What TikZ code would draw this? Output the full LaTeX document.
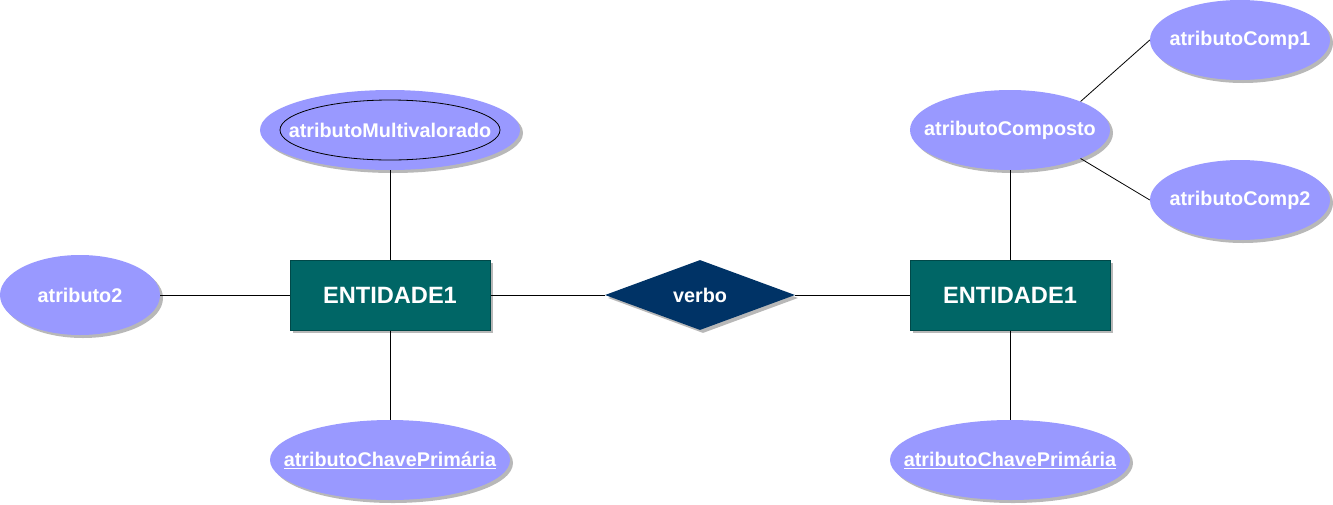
\documentclass[tikz,border=0pt]{standalone}
\usepackage{fontspec}
\setmainfont{Liberation Sans}
\usetikzlibrary{shapes.geometric,shadows}
\definecolor{attrfill}{HTML}{9999FF}
\definecolor{entfill}{HTML}{006666}
\definecolor{entline}{HTML}{004848}
\definecolor{relfill}{HTML}{003366}
\definecolor{shade}{HTML}{B8B8B8}
\tikzset{
  shd/.style={drop shadow={shadow xshift=3pt,shadow yshift=-3pt,fill=shade,opacity=1}},
  txt/.style={text=white,font=\fontsize{19.8pt}{23pt}\selectfont\bfseries,inner sep=0pt},
  attr/.style={ellipse,fill=attrfill,inner sep=0pt,shd,
    minimum width=#1,minimum height=80pt},
  ent/.style={rectangle,fill=entfill,draw=entline,line width=1pt,inner sep=0pt,
    minimum width=200pt,minimum height=70pt,shd,text=white,
    font=\fontsize{23.6pt}{27pt}\selectfont\bfseries},
  rel/.style={diamond,fill=relfill,inner sep=0pt,minimum width=190pt,minimum height=70pt,
    shd,text=white,font=\fontsize{19.8pt}{23pt}\selectfont\bfseries},
  conn/.style={draw=black,line width=0.8pt},
}
\begin{document}
\begin{tikzpicture}[x=1pt,y=-1pt]
\useasboundingbox (0,0) rectangle (1333,504);
% attributes
\node[attr=260pt] (mv) at (390,130) {};
\node[ellipse,draw=black,line width=0.8pt,inner sep=0pt,minimum width=220pt,minimum height=60pt,
  label={[txt]center:atributoMultivalorado}] (mvi) at (390,130) {};
\node[attr=160pt,label={[txt]center:atributo2}] (a2) at (80,295) {};
\node[attr=240pt,label={[txt]center:\underline{atributoChavePrimária}}] (pk1) at (390,460) {};
\node[attr=240pt,label={[txt]center:\underline{atributoChavePrimária}}] (pk2) at (1010,460) {};
\node[attr=200pt,label={[txt]center:atributoComposto}] (comp) at (1010,130) {};
\node[attr=180pt,label={[txt]center:atributoComp1}] (c1) at (1240,40) {};
\node[attr=180pt,label={[txt]center:atributoComp2}] (c2) at (1240,200) {};
% entities and relationship
\node[ent] (e1) at (390,295) {ENTIDADE1};
\node[ent] (e2) at (1010,295) {ENTIDADE1};
\node[rel] (v) at (700,295) {verbo};
% connectors
\draw[conn] (mv.south) -- (e1.north);
\draw[conn] (a2.east) -- (e1.west);
\draw[conn] (e1.south) -- (pk1.north);
\draw[conn] (e1.east) -- (v.west);
\draw[conn] (v.east) -- (e2.west);
\draw[conn] (comp.south) -- (e2.north);
\draw[conn] (e2.south) -- (pk2.north);
\draw[conn] (comp.22) -- (c1.west);
\draw[conn] (comp.-22) -- (c2.west);
\end{tikzpicture}
\end{document}
